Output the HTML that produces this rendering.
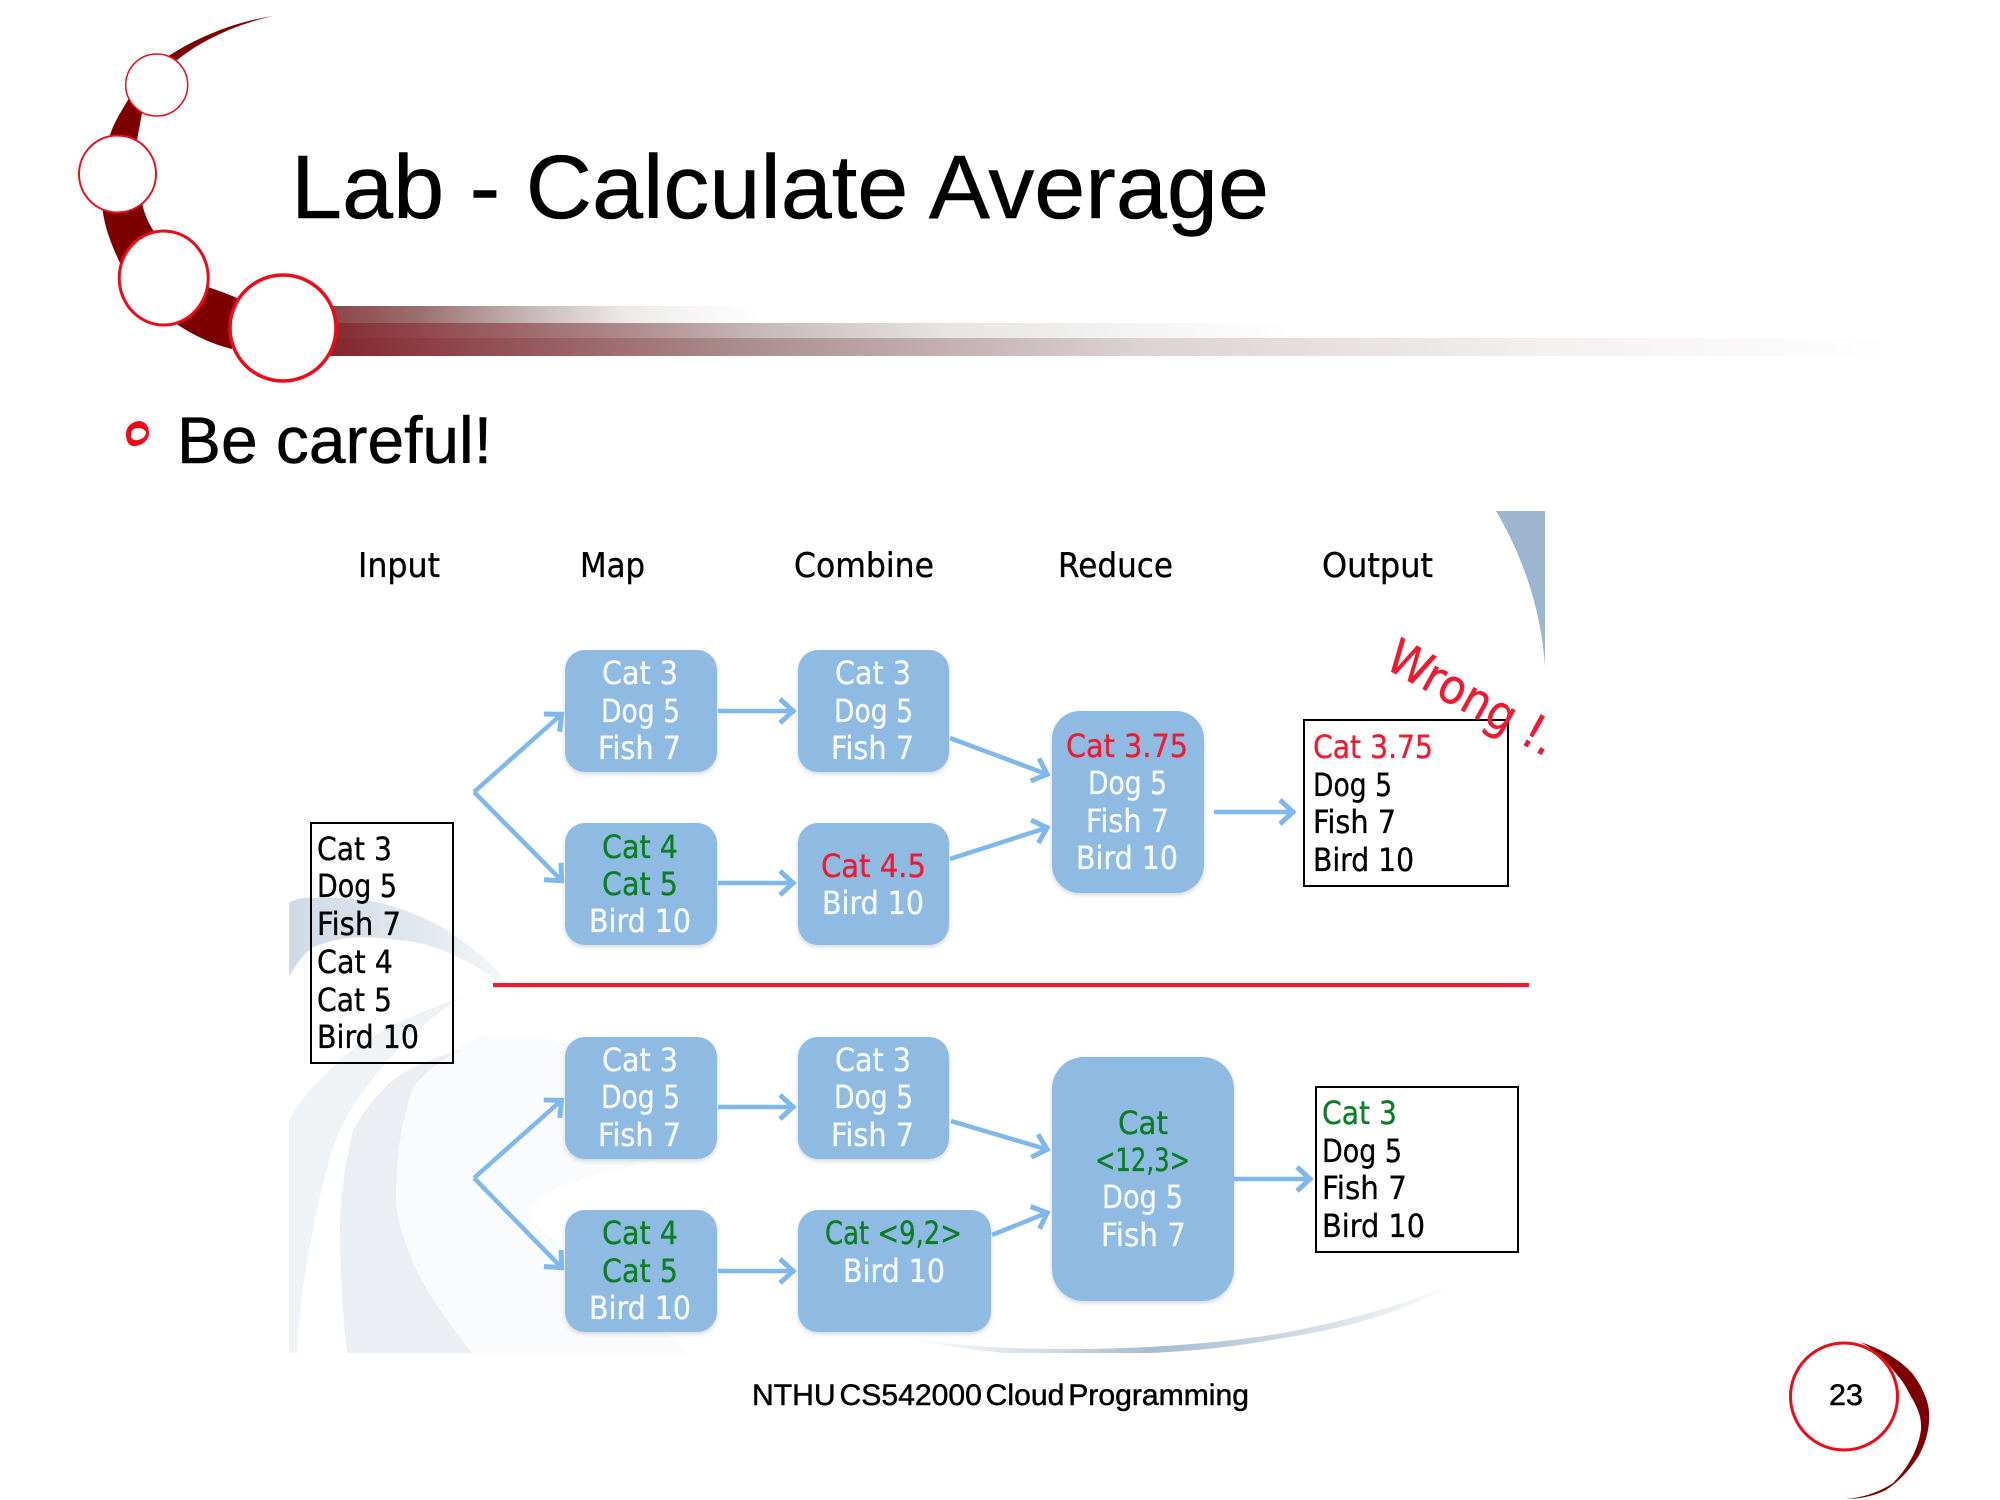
<!DOCTYPE html>
<html><head><meta charset="utf-8"><title>Lab - Calculate Average</title>
<style>
html,body{margin:0;padding:0;background:#fff;width:2000px;height:1500px;overflow:hidden}
svg{display:block}
.a{font-family:"Liberation Sans",Arial,sans-serif;fill:#000;stroke:#000;stroke-width:.5}
.t text{font-family:"DejaVu Sans",sans-serif;font-size:32px;stroke-width:.35}
.w{fill:#f5f9fc;stroke:#f5f9fc}.g{fill:#0b7d22;stroke:#0b7d22}.r{fill:#ee1a30;stroke:#ee1a30}.k{fill:#000;stroke:#000}
.box{fill:#8fbbe3;filter:url(#sh)}
.ar{fill:none;stroke:#80b8ec;stroke-width:4.5;stroke-linejoin:miter;marker-end:url(#hd)}
</style></head><body>
<svg width="2000" height="1500" viewBox="0 0 2000 1500" xmlns="http://www.w3.org/2000/svg">
<defs>
<linearGradient id="b1" x1="0" x2="1" y1="0" y2="0"><stop offset="0" stop-color="#8a3f44"/><stop offset=".23" stop-color="#9c7070"/><stop offset=".465" stop-color="#c4b4b4"/><stop offset=".7" stop-color="#eeeaea"/><stop offset="1" stop-color="#fff"/></linearGradient>
<linearGradient id="b2" x1="0" x2="1" y1="0" y2="0"><stop offset="0" stop-color="#83282c"/><stop offset=".3" stop-color="#ab8587"/><stop offset=".45" stop-color="#c5b8b8"/><stop offset=".65" stop-color="#e8e4e4"/><stop offset="1" stop-color="#fff"/></linearGradient>
<linearGradient id="b3" x1="0" x2="1" y1="0" y2="0"><stop offset="0" stop-color="#83242a"/><stop offset=".26" stop-color="#a98a8c"/><stop offset=".52" stop-color="#dcd2d2"/><stop offset=".78" stop-color="#f3f0f0"/><stop offset="1" stop-color="#fff"/></linearGradient>
<linearGradient id="sw" gradientUnits="userSpaceOnUse" x1="900" x2="1460" y1="0" y2="0"><stop offset="0" stop-color="#fff"/><stop offset=".25" stop-color="#d3dee8"/><stop offset=".45" stop-color="#a5bbd1"/><stop offset=".7" stop-color="#cdd9e4"/><stop offset="1" stop-color="#fff"/></linearGradient>
<linearGradient id="up" gradientUnits="userSpaceOnUse" x1="289" x2="520" y1="0" y2="0"><stop offset="0" stop-color="#cfdae5"/><stop offset=".6" stop-color="#e2e9ef"/><stop offset="1" stop-color="#f9fafb"/></linearGradient>
<filter id="sh" x="-10%" y="-10%" width="120%" height="125%"><feDropShadow dx="0" dy="2" stdDeviation="2.5" flood-color="#5a7a99" flood-opacity=".3"/></filter>
<marker id="hd" markerUnits="userSpaceOnUse" markerWidth="34" markerHeight="34" refX="24" refY="17" orient="auto" viewBox="0 0 34 34"><path d="M9 5 L22 17 L9 29" fill="none" stroke="#80b8ec" stroke-width="5"/></marker>
<clipPath id="cl"><rect x="289" y="511" width="1256" height="842"/></clipPath>
</defs>

<!-- header decoration -->
<rect x="320" y="306" width="440" height="17" fill="url(#b1)"/>
<rect x="320" y="323" width="970" height="15" fill="url(#b2)"/>
<rect x="320" y="338" width="1570" height="18" fill="url(#b3)"/>
<path d="M273 16 C235 22 200 36 170 55 C150 72 135 88 128 100 C120 113 113 125 110 135 C100 165 100 190 103 213 C106 232 113 248 120 263 L178 325 C195 336 212 344 232 349 L237 298 C226 293 216 290 208 287 L153 230 C148 222 145 215 143 207 C137 185 135 160 137 140 L142 113 C150 92 162 74 177 60 C205 38 238 24 273 16 Z" fill="#7c0000"/>
<g fill="#fff" stroke="#ee0a18">
<circle cx="156.7" cy="85" r="31" stroke-width="1.5"/>
<circle cx="117.5" cy="174" r="38.5" stroke-width="2"/>
<ellipse cx="163.7" cy="278" rx="44.5" ry="47" stroke-width="3"/>
<circle cx="283" cy="328" r="53" stroke-width="3.5"/>
</g>
<text class="a" x="291" y="218" font-size="90" textLength="978" lengthAdjust="spacingAndGlyphs">Lab - Calculate Average</text>
<path fill-rule="evenodd" d="M126 434 C126 426 133 421 140 421 C146 422 149 427 149 433 C149 440 142 446 134 446 C128 446 126 440 126 434 Z M131 435 C131 439 134 441 138 440 C143 439 146 436 146 432 C144 428 137 427 134 429 C132 430 131 432 131 435 Z" fill="#ee0a18"/>
<text class="a" x="177" y="463" font-size="66" textLength="315" lengthAdjust="spacingAndGlyphs">Be careful!</text>

<!-- background art -->
<g clip-path="url(#cl)">
<path d="M1496 511 L1545 511 L1545 667 C1542 620 1528 565 1496 511 Z" fill="#9db5cf"/>
<path d="M900 1336 C950 1345 985 1347 1015 1348 C1060 1350 1105 1349 1149 1347 C1200 1344 1240 1340 1283 1333 C1350 1320 1410 1303 1455 1283 C1410 1310 1350 1328 1283 1338 C1240 1346 1200 1351 1149 1353 C1100 1355 1060 1355 1015 1354 C970 1350 930 1344 900 1336 Z" fill="url(#sw)"/>
<path d="M289 977 L289 903 C297 898 305 897 313 898 C340 897 360 899 380 903 C405 909 428 919 447 930 C465 942 482 955 497 970 L520 995 C512 990 505 985 497 980 C480 968 465 960 447 952 C430 945 415 941 397 940 C380 937 362 937 347 938 C335 940 324 943 313 947 C303 955 295 965 289 977 Z" fill="url(#up)"/>
<path d="M472 1353 C440 1320 422 1290 413 1263 C400 1230 393 1205 397 1180 C397 1145 404 1115 413 1087 C430 1062 455 1045 480 1037 C510 1034 540 1036 563 1043 L720 1050 L720 1140 L620 1170 C570 1180 540 1190 530 1215 C560 1255 640 1305 687 1353 Z" fill="#fafbfc"/>
<path d="M289 1353 L289 1120 C298 1104 310 1089 323 1077 C340 1058 360 1043 380 1032 C405 1018 435 1006 460 998 C430 1018 402 1043 380 1070 C365 1088 350 1110 340 1130 C328 1160 320 1195 313 1230 C305 1270 299 1310 297 1353 Z" fill="#f0f3f6"/>
<path d="M460 1050 C438 1056 415 1065 397 1077 C378 1092 364 1110 353 1130 C345 1165 338 1205 340 1247 C341 1285 343 1320 347 1353 L472 1353 C450 1325 428 1295 413 1263 C400 1230 393 1205 397 1180 C397 1145 404 1115 413 1087 C425 1072 442 1060 460 1050 Z" fill="#ebeff3"/>
</g>

<!-- boxes -->
<rect x="493" y="983" width="1036" height="4" fill="#ee1a30" filter="url(#sh)"/>
<rect class="box" x="565" y="650" width="152" height="122" rx="20"/>
<rect class="box" x="798" y="650" width="151" height="122" rx="20"/>
<rect class="box" x="565" y="823" width="152" height="122" rx="20"/>
<rect class="box" x="798" y="823" width="151" height="122" rx="20"/>
<rect class="box" x="1052" y="711" width="152" height="182" rx="28"/>
<rect class="box" x="565" y="1037" width="152" height="122" rx="20"/>
<rect class="box" x="798" y="1037" width="151" height="122" rx="20"/>
<rect class="box" x="565" y="1210" width="152" height="122" rx="20"/>
<rect class="box" x="798" y="1210" width="193" height="122" rx="20"/>
<rect class="box" x="1052" y="1057" width="182" height="244" rx="32"/>
<rect x="311" y="823" width="142" height="240" fill="none" stroke="#000" stroke-width="2"/>
<rect x="1304" y="720" width="204" height="166" fill="#fff" stroke="#000" stroke-width="2"/>
<rect x="1316" y="1087" width="202" height="165" fill="#fff" stroke="#000" stroke-width="2"/>

<!-- arrows -->
<path class="ar" d="M474 792 L563 713"/><path class="ar" d="M474 792 L563 882"/>
<path class="ar" d="M718 711 L795 711"/><path class="ar" d="M718 883 L795 883"/>
<path class="ar" d="M950 738 L1049 775"/><path class="ar" d="M950 859 L1049 827"/>
<path class="ar" d="M1214 812 L1295 812"/>
<path class="ar" d="M474 1178 L563 1099"/><path class="ar" d="M474 1178 L563 1269"/>
<path class="ar" d="M718 1107 L795 1107"/><path class="ar" d="M718 1271 L795 1271"/>
<path class="ar" d="M951 1121 L1049 1150"/><path class="ar" d="M992 1235 L1049 1212"/>
<path class="ar" d="M1234 1179 L1312 1179"/>

<g class="t" text-rendering="geometricPrecision">
<!-- headers -->
<text class="k" style="font-size:34px" x="358" y="577" textLength="82" lengthAdjust="spacingAndGlyphs">Input</text>
<text class="k" style="font-size:34px" x="580" y="577" textLength="65" lengthAdjust="spacingAndGlyphs">Map</text>
<text class="k" style="font-size:34px" x="794" y="577" textLength="140" lengthAdjust="spacingAndGlyphs">Combine</text>
<text class="k" style="font-size:34px" x="1058" y="577" textLength="115" lengthAdjust="spacingAndGlyphs">Reduce</text>
<text class="k" style="font-size:34px" x="1322" y="577" textLength="111" lengthAdjust="spacingAndGlyphs">Output</text>
<!-- input -->
<text class="k" x="317" y="860" textLength="75" lengthAdjust="spacingAndGlyphs">Cat 3</text>
<text class="k" x="317" y="897" textLength="80" lengthAdjust="spacingAndGlyphs">Dog 5</text>
<text class="k" x="317" y="935" textLength="84" lengthAdjust="spacingAndGlyphs">Fish 7</text>
<text class="k" x="317" y="973" textLength="76" lengthAdjust="spacingAndGlyphs">Cat 4</text>
<text class="k" x="317" y="1011" textLength="75" lengthAdjust="spacingAndGlyphs">Cat 5</text>
<text class="k" x="317" y="1048" textLength="102" lengthAdjust="spacingAndGlyphs">Bird 10</text>
<!-- top map -->
<text class="w" x="602" y="684" textLength="76" lengthAdjust="spacingAndGlyphs">Cat 3</text>
<text class="w" x="601" y="722" textLength="79" lengthAdjust="spacingAndGlyphs">Dog 5</text>
<text class="w" x="598" y="759" textLength="83" lengthAdjust="spacingAndGlyphs">Fish 7</text>
<text class="g" x="602" y="858" textLength="76" lengthAdjust="spacingAndGlyphs">Cat 4</text>
<text class="g" x="602" y="895" textLength="76" lengthAdjust="spacingAndGlyphs">Cat 5</text>
<text class="w" x="589" y="932" textLength="102" lengthAdjust="spacingAndGlyphs">Bird 10</text>
<!-- top combine -->
<text class="w" x="835" y="684" textLength="76" lengthAdjust="spacingAndGlyphs">Cat 3</text>
<text class="w" x="834" y="722" textLength="79" lengthAdjust="spacingAndGlyphs">Dog 5</text>
<text class="w" x="831" y="759" textLength="83" lengthAdjust="spacingAndGlyphs">Fish 7</text>
<text class="r" x="821" y="877" textLength="105" lengthAdjust="spacingAndGlyphs">Cat 4.5</text>
<text class="w" x="822" y="914" textLength="102" lengthAdjust="spacingAndGlyphs">Bird 10</text>
<!-- top reduce -->
<text class="r" x="1066" y="757" textLength="122" lengthAdjust="spacingAndGlyphs">Cat 3.75</text>
<text class="w" x="1088" y="794" textLength="79" lengthAdjust="spacingAndGlyphs">Dog 5</text>
<text class="w" x="1086" y="832" textLength="83" lengthAdjust="spacingAndGlyphs">Fish 7</text>
<text class="w" x="1076" y="869" textLength="102" lengthAdjust="spacingAndGlyphs">Bird 10</text>
<!-- top output -->
<text class="r" x="1313" y="758" textLength="120" lengthAdjust="spacingAndGlyphs">Cat 3.75</text>
<text class="k" x="1313" y="796" textLength="79" lengthAdjust="spacingAndGlyphs">Dog 5</text>
<text class="k" x="1313" y="833" textLength="83" lengthAdjust="spacingAndGlyphs">Fish 7</text>
<text class="k" x="1313" y="871" textLength="101" lengthAdjust="spacingAndGlyphs">Bird 10</text>
<!-- lower map -->
<text class="w" x="602" y="1071" textLength="76" lengthAdjust="spacingAndGlyphs">Cat 3</text>
<text class="w" x="601" y="1108" textLength="79" lengthAdjust="spacingAndGlyphs">Dog 5</text>
<text class="w" x="598" y="1146" textLength="83" lengthAdjust="spacingAndGlyphs">Fish 7</text>
<text class="g" x="602" y="1244" textLength="76" lengthAdjust="spacingAndGlyphs">Cat 4</text>
<text class="g" x="602" y="1282" textLength="76" lengthAdjust="spacingAndGlyphs">Cat 5</text>
<text class="w" x="589" y="1319" textLength="102" lengthAdjust="spacingAndGlyphs">Bird 10</text>
<!-- lower combine -->
<text class="w" x="835" y="1071" textLength="76" lengthAdjust="spacingAndGlyphs">Cat 3</text>
<text class="w" x="834" y="1108" textLength="79" lengthAdjust="spacingAndGlyphs">Dog 5</text>
<text class="w" x="831" y="1146" textLength="83" lengthAdjust="spacingAndGlyphs">Fish 7</text>
<text class="g" x="825" y="1244" textLength="137" lengthAdjust="spacingAndGlyphs">Cat &lt;9,2&gt;</text>
<text class="w" x="843" y="1282" textLength="102" lengthAdjust="spacingAndGlyphs">Bird 10</text>
<!-- lower reduce -->
<text class="g" x="1118" y="1134" textLength="50" lengthAdjust="spacingAndGlyphs">Cat</text>
<text class="g" x="1095" y="1171" textLength="95" lengthAdjust="spacingAndGlyphs">&lt;12,3&gt;</text>
<text class="w" x="1102" y="1208" textLength="81" lengthAdjust="spacingAndGlyphs">Dog 5</text>
<text class="w" x="1101" y="1246" textLength="85" lengthAdjust="spacingAndGlyphs">Fish 7</text>
<!-- lower output -->
<text class="g" x="1322" y="1124" textLength="75" lengthAdjust="spacingAndGlyphs">Cat 3</text>
<text class="k" x="1322" y="1162" textLength="80" lengthAdjust="spacingAndGlyphs">Dog 5</text>
<text class="k" x="1322" y="1199" textLength="85" lengthAdjust="spacingAndGlyphs">Fish 7</text>
<text class="k" x="1322" y="1237" textLength="103" lengthAdjust="spacingAndGlyphs">Bird 10</text>
</g>
<g clip-path="url(#cl)">
<text transform="translate(1383 667) rotate(29)" font-family="'DejaVu Sans',sans-serif" font-size="48" fill="#ee1a30" stroke="#ee1a30" stroke-width=".5" textLength="186" lengthAdjust="spacingAndGlyphs">Wrong !.</text>
</g>

<!-- footer -->
<text class="a" x="752" y="1405" font-size="30" word-spacing="-4.5" textLength="497" lengthAdjust="spacingAndGlyphs">NTHU CS542000 Cloud Programming</text>
<path d="M1860 1342 C1885 1350 1902 1362 1912 1373 C1925 1390 1929 1405 1929 1413 C1930 1430 1925 1445 1918 1457 C1908 1472 1898 1482 1886 1490 C1872 1497 1858 1499 1845 1499 C1862 1498 1880 1492 1893 1483 C1908 1468 1918 1450 1921 1430 C1922 1415 1916 1405 1909 1393 C1904 1382 1898 1376 1893 1370 C1885 1358 1872 1348 1860 1342 Z" fill="#7c0000"/>
<ellipse cx="1844" cy="1396.5" rx="53.5" ry="53.5" fill="#fff" stroke="#ee0a18" stroke-width="3"/>
<text class="a" x="1829" y="1405" font-size="30" textLength="34" lengthAdjust="spacingAndGlyphs">23</text>
</svg>
</body></html>
